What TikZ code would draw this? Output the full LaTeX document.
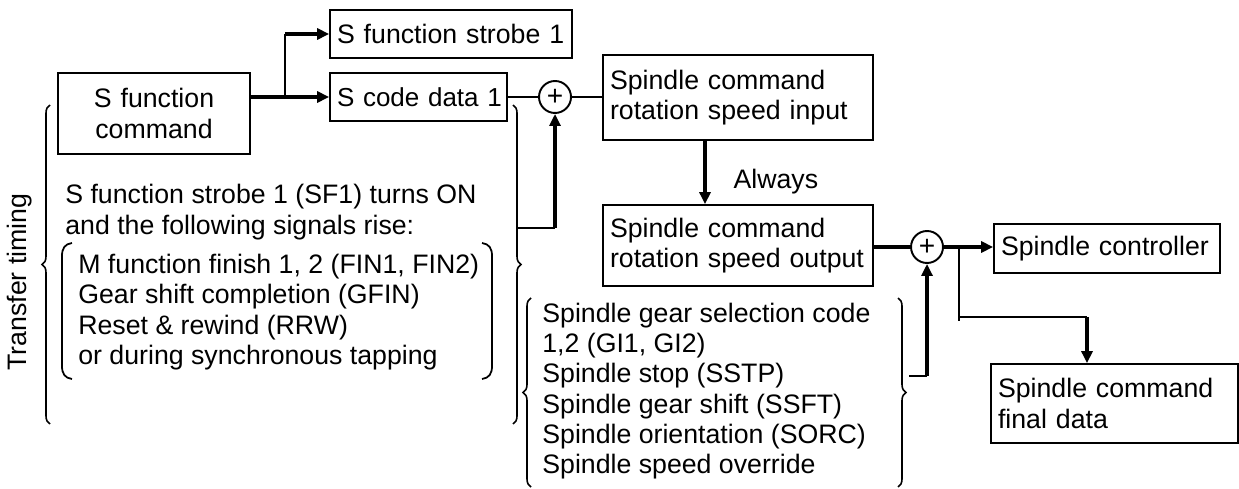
\documentclass[tikz,border=0pt]{standalone}
\usepackage{fontspec}
\setmainfont{Liberation Sans}
\usetikzlibrary{positioning,arrows.meta,calc,decorations.pathreplacing}

\begin{document}
\begin{tikzpicture}[x=0.02cm, y=-0.02cm,
    every node/.style={font=\fontsize{15.2}{17.2}\selectfont},
    block/.style={draw, line width=1pt, inner xsep=0.14cm, inner ysep=0pt, align=left},
    sumnode/.style={circle, draw, line width=1.1pt, minimum size=0.64cm, inner sep=0pt, font=\fontsize{16}{16}\selectfont},
    listtext/.style={align=left, inner sep=0pt, anchor=west},
    arrow/.style={-{Triangle[length=2.4mm, width=2.2mm]}, line width=1.8pt},
    thickline/.style={line width=1.8pt},
    thinline/.style={line width=1pt},
    bracegroup/.style={decorate, decoration={brace, amplitude=0.16cm}, line width=0.9pt},
]
\useasboundingbox (0,0) rectangle (1239,489);

\node[block, text width=3.56cm, align=center, minimum height=1.62cm] (cmd) at (154,113.5) {S function\\command};
\node[block, text width=4.56cm, minimum height=0.96cm] (strobe) at (451,34) {S function strobe 1};
\node[block, text width=3.26cm, minimum height=0.96cm, font=\fontsize{14.8}{17.2}\selectfont] (scode) at (418.5,97) {\mbox{S code data 1}};
\node[sumnode] (sum1) at (555,97) {+};
\node[block, text width=5.12cm, minimum height=1.7cm] (rotin) at (738,97.5) {Spindle command\\rotation speed input};
\node[block, text width=5.12cm, minimum height=1.62cm] (rotout) at (738,245.5) {Spindle command\\rotation speed output};
\node[sumnode] (sum2) at (927,247) {+};
\node[block, text width=4.24cm, minimum height=0.98cm] (ctrl) at (1107,248.5) {Spindle controller};
\node[block, text width=4.66cm, minimum height=1.58cm] (final) at (1114.5,403.5) {Spindle command\\final data};

\node[listtext] (strobetxt) at (65,212) {S function strobe 1 (SF1) turns ON\\and the following signals rise:};
\node[listtext] (siglist) at (78,312) {M function finish 1, 2 (FIN1, FIN2)\\Gear shift completion (GFIN)\\Reset \& rewind (RRW)\\or during synchronous tapping};
\node[listtext] (gearlist) at (542,391) {Spindle gear selection code\\1,2 (GI1, GI2)\\Spindle stop (SSTP)\\Spindle gear shift (SSFT)\\Spindle orientation (SORC)\\Spindle speed override};
\node[rotate=90] (timing) at (20,282) {Transfer timing};

\coordinate (split1) at (285,97);
\coordinate (split2) at (959,247);
\coordinate (tap) at (1087,317);
\coordinate (feed1) at (518,228);
\coordinate (feed2) at (909,376);

\draw[thickline] (cmd.east |- scode.west) -- (split1);
\draw[arrow] (split1) -- (scode.west);
\draw[thinline] (split1) -- (split1 |- strobe.west);
\draw[arrow] (split1 |- strobe.west) -- (strobe.west);
\draw[thinline] (scode.east) -- (sum1);
\draw[thinline] (sum1.east) -- (sum1.east -| rotin.west);
\draw[arrow] ([xshift=-0.66cm]rotin.south) -- node[pos=0.65, anchor=west, inner sep=0pt, xshift=0.54cm] (always) {Always} ([xshift=-0.66cm]rotout.north);
\draw[thinline] (feed1) -- (feed1 -| sum1);
\draw[arrow] (feed1 -| sum1) -- (sum1);
\draw[thickline] (rotout.east |- sum2) -- (sum2);
\draw[arrow] (sum2) -- (sum2 -| ctrl.west);
\draw[thinline] (split2) -- ++(0,74);
\draw[thinline] (split2 |- tap) -- (tap);
\draw[arrow] (tap) -- (tap |- final.north);
\draw[thinline] (feed2) -- (feed2 -| sum2);
\draw[arrow] (feed2 -| sum2) -- (sum2);

\draw[bracegroup] (50,424) -- (50,105);
\draw[bracegroup] (513,105) -- (513,424);
\draw[bracegroup] (531,487) -- (531,298);
\draw[bracegroup] (898,298) -- (898,487);
\draw[thinline] (72,243) .. controls (65,244) and (62,248) .. (62,256) -- (62,366) .. controls (62,374) and (65,378) .. (72,379);
\draw[thinline] (482,243) .. controls (489,244) and (492,248) .. (492,256) -- (492,366) .. controls (492,374) and (489,378) .. (482,379);
\end{tikzpicture}
\end{document}
